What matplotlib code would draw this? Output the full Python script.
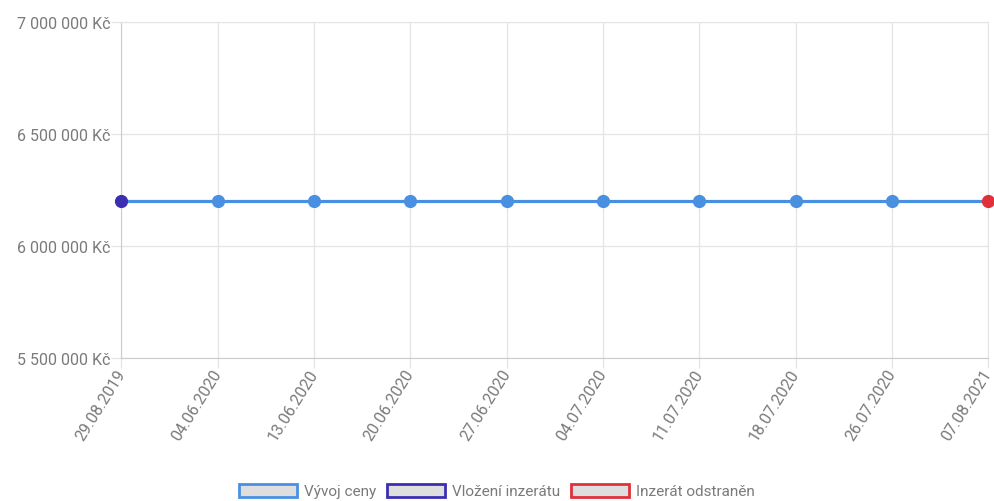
import matplotlib
matplotlib.use("Agg")
import matplotlib.pyplot as plt
from matplotlib.patches import Patch
from matplotlib.ticker import FuncFormatter, MultipleLocator

dates = ["29.08.2019", "04.06.2020", "13.06.2020", "20.06.2020", "27.06.2020",
         "04.07.2020", "11.07.2020", "18.07.2020", "26.07.2020", "07.08.2021"]
prices = [6198000, 6198000, 6198000, 6198000, 6198000,
          6198000, 6198000, 6198000, 6198000, 6198000]
legend_labels = ["Vývoj ceny", "Vložení inzerátu", "Inzerát odstraněn"]

plt.rcParams['font.family'] = ['Roboto', 'DejaVu Sans']

c_line = "#4a90e2"
c_first = "#3b2fb0"
c_last = "#e0313b"
grid_c = "#e4e4e4"
text_c = "#7a7a7a"

fig = plt.figure(figsize=(9.94, 5.02), dpi=100)
ax = fig.add_axes([0.1222, 0.2855, 0.8722, 0.6693])

x = list(range(len(dates)))
ax.plot(x, prices, color=c_line, linewidth=2.3, zorder=3, clip_on=False)
ax.plot(x[1:-1], prices[1:-1], 'o', color=c_line, markersize=8.5, zorder=4, clip_on=False)
ax.plot([x[0]], [prices[0]], 'o', color=c_first, markersize=8.5, zorder=5, clip_on=False)
ax.plot([x[-1]], [prices[-1]], 'o', color=c_last, markersize=8.5, zorder=5, clip_on=False)

ax.set_xlim(0, len(dates) - 1)
ax.set_ylim(5500000, 7000000)
ax.yaxis.set_major_locator(MultipleLocator(500000))
ax.yaxis.set_major_formatter(FuncFormatter(lambda v, p: f"{int(v):,}".replace(",", " ") + " Kč"))
ax.set_xticks(x)
ax.set_xticklabels(dates, rotation=58, ha='right', va='center', rotation_mode='anchor')

ax.grid(True, color=grid_c, linewidth=0.9)
ax.set_axisbelow(True)
for s in ax.spines.values():
    s.set_color(grid_c)
ax.spines['left'].set_color("#cccccc")
ax.spines['bottom'].set_color("#cccccc")
ax.tick_params(axis='both', colors=grid_c, labelcolor=text_c, labelsize=11.5, length=7, width=0.9)
ax.tick_params(axis='y', pad=1)
ax.tick_params(axis='x', pad=2)

handles = [Patch(facecolor="#dedede", edgecolor=c, linewidth=2.0) for c in [c_line, c_first, c_last]]
fig.legend(handles, legend_labels, loc='center', bbox_to_anchor=(0.5, 0.02), ncol=3,
           frameon=False, fontsize=11, handlelength=3.8, handleheight=0.95,
           handletextpad=0.45, columnspacing=0.7, labelcolor=text_c)

fig.savefig("out.png", dpi=100)
